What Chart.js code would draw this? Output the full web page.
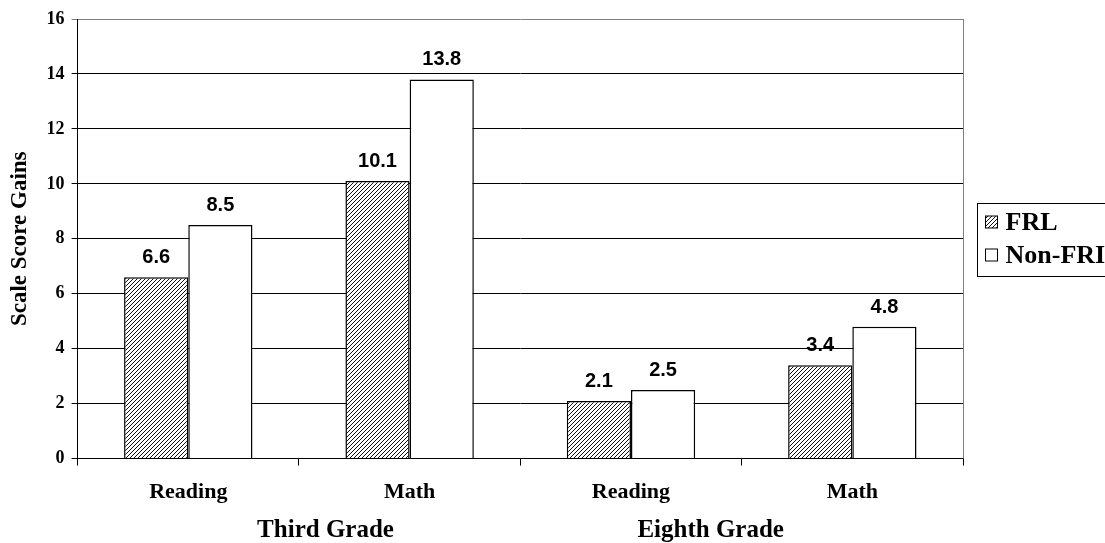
<!DOCTYPE html>
<html>
<head>
<meta charset="utf-8">
<script src="https://cdn.jsdelivr.net/npm/chart.js@4/dist/chart.umd.min.js"></script>
<style>
  html, body { margin: 0; padding: 0; background: #fff; overflow: hidden; }
  #wrap { width: 1105px; height: 543px; position: relative; }
</style>
</head>
<body>
<div id="wrap"><canvas id="gains"></canvas></div>
<script>
// Scale score gains by grade / subject
const subjects = ["Reading", "Math", "Reading", "Math"];
const grades = ["Third Grade", "Eighth Grade"];
const frlGains = [6.6, 10.1, 2.1, 3.4];
const nonFrlGains = [8.5, 13.8, 2.5, 4.8];
const seriesNames = ["FRL", "Non-FRI"];
const yTicks = [0, 2, 4, 6, 8, 10, 12, 14, 16];

const serif = "'Liberation Serif', 'Times New Roman', serif";
const sans = "'Liberation Sans', Arial, sans-serif";

function makeHatch() {
    const c = document.createElement("canvas");
    c.width = 4; c.height = 4;
    const g = c.getContext("2d");
    g.fillStyle = "#fff";
    g.fillRect(0, 0, 4, 4);
    g.strokeStyle = "#111";
    g.lineWidth = 1;
    g.beginPath();
    for (let k = -4; k <= 8; k += 4) {
        g.moveTo(k, 4);
        g.lineTo(k + 4, 0);
    }
    g.stroke();
    return g.createPattern(c, "repeat");
}
const hatch = makeHatch();

const valueLabels = {
    id: "valueLabels",
    afterDatasetsDraw(chart) {
        const ctx = chart.ctx;
        ctx.save();
        ctx.font = "bold 20px " + sans;
        ctx.fillStyle = "#000";
        ctx.textAlign = "center";
        ctx.textBaseline = "alphabetic";
        chart.data.datasets.forEach((ds, i) => {
            chart.getDatasetMeta(i).data.forEach((bar, j) => {
                ctx.fillText(ds.data[j].toFixed(1), bar.x, bar.y - 14);
            });
        });
        ctx.restore();
    }
};

const frame = {
    id: "frame",
    afterDraw(chart) {
        const ctx = chart.ctx;
        const a = chart.chartArea;
        ctx.save();
        // right border of plot area
        ctx.strokeStyle = "#808080";
        ctx.lineWidth = 1;
        ctx.beginPath();
        ctx.moveTo(a.right + 0.5, a.top);
        ctx.lineTo(a.right + 0.5, a.bottom);
        ctx.stroke();

        // grade labels under each pair of categories
        const x = chart.scales.x;
        const step = x.getPixelForValue(1) - x.getPixelForValue(0);
        ctx.font = "bold 25px " + serif;
        ctx.fillStyle = "#000";
        ctx.textAlign = "center";
        ctx.textBaseline = "alphabetic";
        grades.forEach((g, i) => {
            const mid = (x.getPixelForValue(i * 2) + x.getPixelForValue(i * 2 + 1)) / 2;
            const shift = i === 0 ? 0.12 * step : -0.14 * step;
            ctx.fillText(g, mid + shift, chart.height - 6);
        });

        // legend, boxed, to the right of the plot
        const midY = (a.top + a.bottom) / 2;
        const boxL = Math.round(a.right + 14) + 0.5;
        ctx.strokeStyle = "#000";
        ctx.strokeRect(boxL, Math.round(midY - 36) + 0.5, 300, 73);
        ctx.font = "bold 26px " + serif;
        ctx.textBaseline = "middle";
        ctx.textAlign = "left";
        chart.data.datasets.forEach((ds, i) => {
            const cy = Math.round(midY + (i === 0 ? -16.5 : 16.5));
            ctx.fillStyle = ds.backgroundColor;
            ctx.fillRect(boxL + 8, cy - 6, 12, 12);
            ctx.strokeRect(boxL + 8, cy - 6, 12, 12);
            ctx.fillStyle = "#000";
            ctx.fillText(ds.label, boxL + 28, cy + 1);
        });
        ctx.restore();
    }
};

new Chart(document.getElementById("gains"), {
    type: "bar",
    data: {
        labels: subjects,
        datasets: [
            {
                label: seriesNames[0],
                data: frlGains,
                backgroundColor: hatch,
                borderColor: "#000",
                borderWidth: 1.5,
                categoryPercentage: 0.58,
                barPercentage: 1.0
            },
            {
                label: seriesNames[1],
                data: nonFrlGains,
                backgroundColor: "#fff",
                borderColor: "#000",
                borderWidth: 1.5,
                categoryPercentage: 0.58,
                barPercentage: 1.0
            }
        ]
    },
    options: {
        responsive: true,
        maintainAspectRatio: false,
        animation: false,
        layout: { padding: { top: 19, left: 6, right: 142, bottom: 23 } },
        plugins: {
            legend: { display: false },
            tooltip: { enabled: false }
        },
        scales: {
            x: {
                border: { color: "#000", width: 1 },
                grid: { drawOnChartArea: false, color: "#000", tickLength: 7 },
                ticks: {
                    color: "#000",
                    padding: 14,
                    font: { family: serif, size: 22, weight: "bold" }
                }
            },
            y: {
                min: yTicks[0],
                max: yTicks[yTicks.length - 1],
                afterBuildTicks(axis) {
                    axis.ticks = yTicks.map(v => ({ value: v }));
                },
                border: { color: "#000", width: 1 },
                grid: {
                    color: ctx => ctx.tick && ctx.tick.value === 16 ? "#808080" : "#000",
                    tickLength: 6
                },
                ticks: {
                    color: "#000",
                    padding: 7,
                    font: { family: serif, size: 18, weight: "bold" }
                },
                title: {
                    display: true,
                    text: "Scale Score Gains",
                    color: "#000",
                    padding: { top: 0, bottom: 6 },
                    font: { family: serif, size: 23, weight: "bold" }
                }
            }
        }
    },
    plugins: [valueLabels, frame]
});
</script>
</body>
</html>
